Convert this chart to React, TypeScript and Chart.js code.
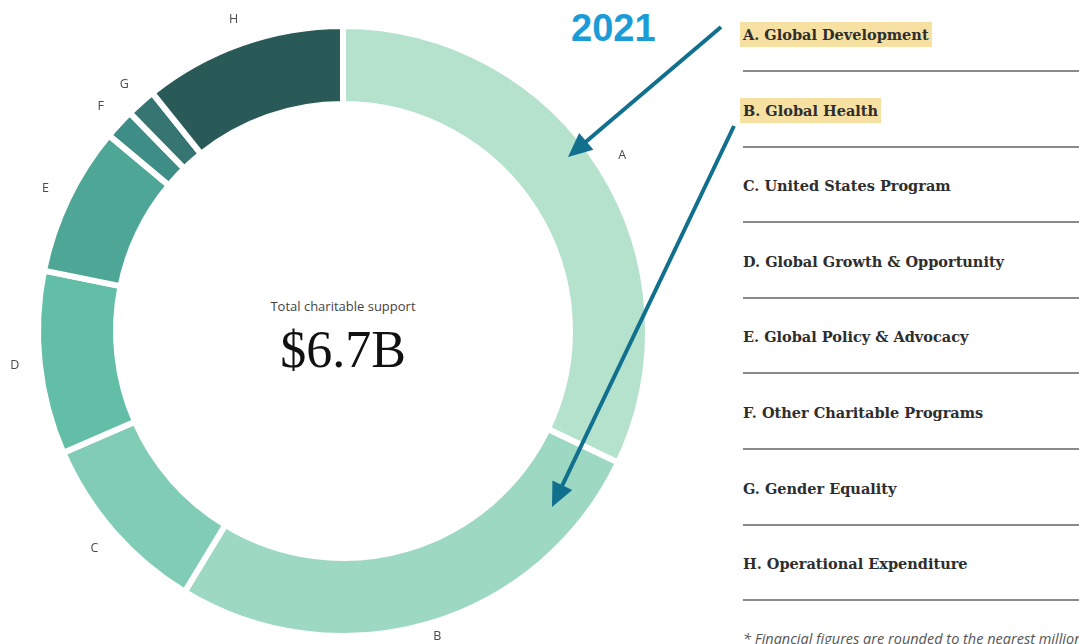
import React, { useEffect, useRef } from "react";
import { Chart, registerables } from "chart.js";

Chart.register(...registerables);

const letters = ["A", "B", "C", "D", "E", "F", "G", "H"];
const categories = [
  "A. Global Development",
  "B. Global Health",
  "C. United States Program",
  "D. Global Growth & Opportunity",
  "E. Global Policy & Advocacy",
  "F. Other Charitable Programs",
  "G. Gender Equality",
  "H. Operational Expenditure",
];
// Estimated shares (USD millions) of the $6.7B total
const values = [2150, 1780, 655, 650, 530, 107, 105, 720];
const highlighted = [true, true, false, false, false, false, false, false];
const colors = [
  "#b5e2cd",
  "#9dd8c2",
  "#80ccb4",
  "#63bea7",
  "#4ea796",
  "#3f8d87",
  "#367572",
  "#2a5a57",
];

const CX = 343;
const CY = 331;
const GAP = 6;
const OUTER = 302;
const INNER = 230;

const outsideLabels = {
  id: "outsideLabels",
  afterDatasetsDraw(chart: any) {
    const ctx = chart.ctx;
    const meta = chart.getDatasetMeta(0);
    ctx.save();
    ctx.font = "12.5px 'Open Sans'";
    ctx.fillStyle = "#4a4a4a";
    ctx.textAlign = "center";
    ctx.textBaseline = "middle";
    meta.data.forEach((arc: any, i: number) => {
      const mid = (arc.startAngle + arc.endAngle) / 2;
      const r = OUTER + 28;
      const x = arc.x + Math.cos(mid) * r;
      const y = Math.min(arc.y + Math.sin(mid) * r, 636);
      ctx.fillText(letters[i], x, y);
    });
    ctx.restore();
  },
};

function drawArrow(ctx: CanvasRenderingContext2D, x1: number, y1: number, x2: number, y2: number) {
  const ang = Math.atan2(y2 - y1, x2 - x1);
  const headLen = 24;
  const headHalf = 11;
  const bx = x2 - Math.cos(ang) * headLen;
  const by = y2 - Math.sin(ang) * headLen;
  ctx.beginPath();
  ctx.moveTo(x1, y1);
  ctx.lineTo(bx + Math.cos(ang) * 4, by + Math.sin(ang) * 4);
  ctx.stroke();
  ctx.beginPath();
  ctx.moveTo(x2, y2);
  ctx.lineTo(bx + Math.cos(ang + Math.PI / 2) * headHalf, by + Math.sin(ang + Math.PI / 2) * headHalf);
  ctx.lineTo(bx - Math.cos(ang + Math.PI / 2) * headHalf, by - Math.sin(ang + Math.PI / 2) * headHalf);
  ctx.closePath();
  ctx.fill();
}

const arrows = {
  id: "arrows",
  afterDraw(chart: any) {
    const ctx = chart.ctx;
    ctx.save();
    ctx.strokeStyle = "#10708e";
    ctx.fillStyle = "#10708e";
    ctx.lineWidth = 4;
    ctx.lineCap = "butt";
    drawArrow(ctx, 721, 27, 568, 157);
    drawArrow(ctx, 734, 126, 552, 507);
    ctx.restore();
  },
};

export default function App() {
  const ref = useRef<HTMLCanvasElement>(null);

  useEffect(() => {
    if (!ref.current) return;
    const chart = new Chart(ref.current, {
      type: "doughnut",
      data: {
        labels: categories,
        datasets: [
          {
            data: values,
            backgroundColor: colors,
            borderColor: "#ffffff",
            borderWidth: GAP,
            hoverOffset: 0,
          },
        ],
      },
      options: {
        animation: false,
        responsive: false,
        events: [],
        radius: OUTER + GAP / 2,
        cutout: ((INNER - GAP / 2) / (OUTER + GAP / 2)) * 100 + "%",
        layout: {
          padding: { left: 0, right: 1079 - 2 * CX, top: 2 * CY - 644, bottom: 0 },
        },
        plugins: {
          legend: { display: false },
          tooltip: { enabled: false },
        },
      } as any,
      plugins: [outsideLabels, arrows],
    });
    return () => chart.destroy();
  }, []);

  const rowTop = 34;
  const rowStep = 75.6;

  return (
    <div
      style={{
        position: "fixed",
        left: 0,
        top: 0,
        width: 1079,
        height: 644,
        background: "#ffffff",
        overflow: "hidden",
      }}
    >
      <div
        style={{
          position: "absolute",
          left: CX - 150,
          width: 300,
          top: 297,
          textAlign: "center",
          fontFamily: "'Open Sans'",
          fontSize: 13,
          color: "#444",
          lineHeight: "18px",
        }}
      >
        Total charitable support
      </div>
      <div
        style={{
          position: "absolute",
          left: CX - 150,
          width: 300,
          top: 320,
          textAlign: "center",
          fontFamily: "'Liberation Serif'",
          fontSize: 52,
          color: "#111",
          lineHeight: "60px",
        }}
      >
        $6.7B
      </div>
      <div
        style={{
          position: "absolute",
          left: 571,
          top: 5,
          fontFamily: "'Liberation Sans'",
          fontWeight: 700,
          fontSize: 38,
          color: "#1b9cd7",
          lineHeight: "46px",
        }}
      >
        2021
      </div>
      {categories.map((c, i) => {
        const cy = rowTop + rowStep * i;
        return (
          <React.Fragment key={c}>
            <div
              style={{
                position: "absolute",
                left: 740,
                top: cy - 12,
                height: 25,
                lineHeight: "25px",
                padding: "0 3px",
                background: highlighted[i] ? "#f6e0a2" : "transparent",
                fontFamily: "'DejaVu Serif'",
                fontWeight: 700,
                fontSize: 14.5,
                color: "#2e2e2e",
                whiteSpace: "nowrap",
              }}
            >
              {c}
            </div>
            <div
              style={{
                position: "absolute",
                left: 743,
                right: 0,
                top: cy + 36,
                height: 2,
                background: "#8a8a8a",
              }}
            />
          </React.Fragment>
        );
      })}
      <div
        style={{
          position: "absolute",
          left: 743,
          top: 629,
          fontFamily: "'Open Sans'",
          fontStyle: "italic",
          fontSize: 14.5,
          color: "#555",
          whiteSpace: "nowrap",
          lineHeight: "20px",
        }}
      >
        * Financial figures are rounded to the nearest million
      </div>
      <canvas
        ref={ref}
        width={1079}
        height={644}
        style={{ position: "absolute", left: 0, top: 0, width: 1079, height: 644 }}
      />
    </div>
  );
}
